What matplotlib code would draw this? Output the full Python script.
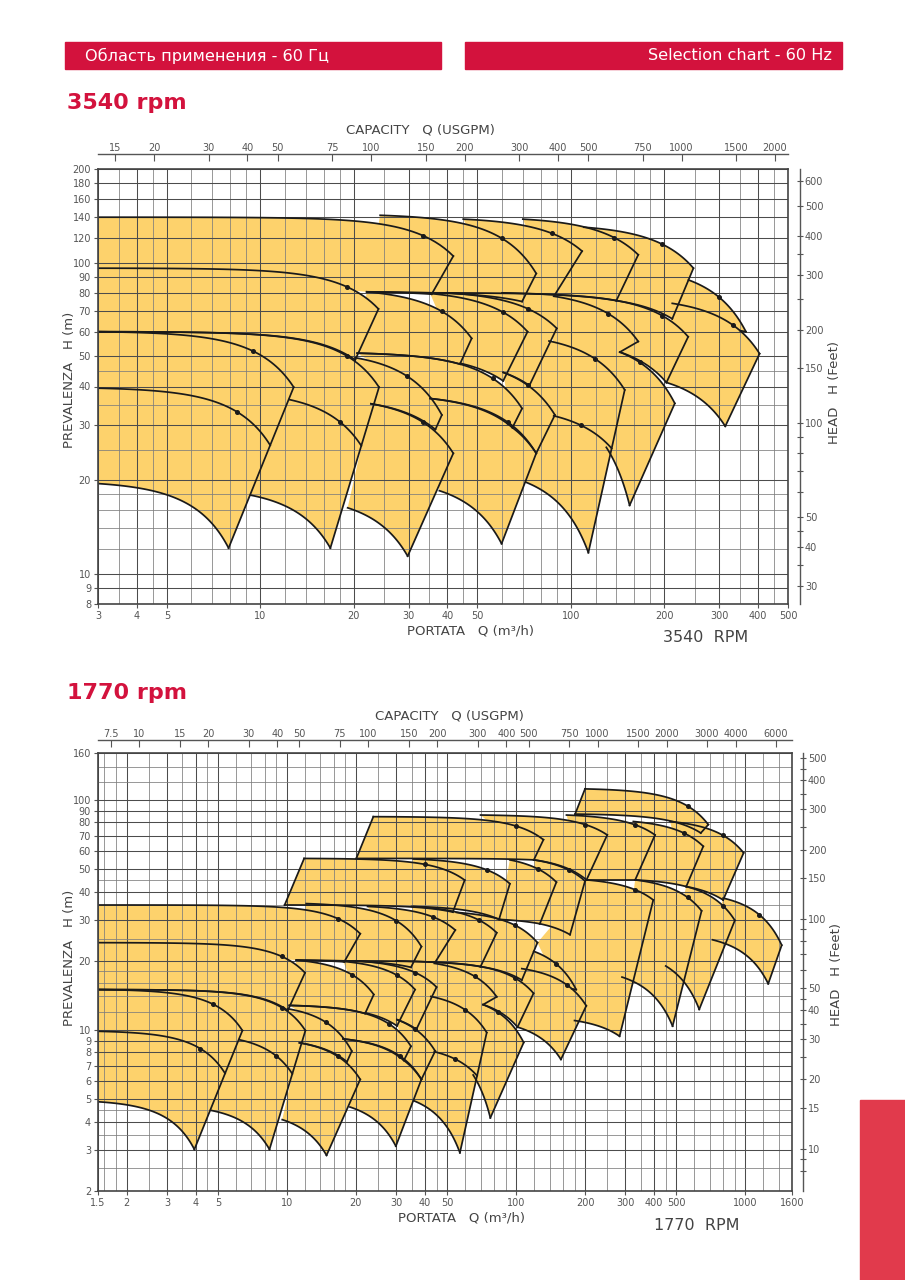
import numpy as np
import matplotlib.pyplot as plt
from matplotlib.patches import Rectangle
from matplotlib.ticker import NullFormatter, NullLocator

RED = '#d3123d'
YELLOW = '#fdd26c'
GPM = 4.4029   # USGPM per m3/h
FT = 0.3048    # metres per foot

# ---------------- 3540 rpm pump tiles (Q m3/h, H m) ----------------
hi_top = [(3, 60), (3, 60), (22.7, 35.2), (35.2, 36.6), (85, 56), (143.7, 51.6),
          (3, 96), (22, 80.6), (20.2, 49.5), (20.5, 51.2), (60.5, 44.4), (35.2, 79.6),
          (40, 80), (88, 78), (36, 80),
          (3, 140), (24.3, 142), (45, 138), (70, 138), (110, 130), (239, 88), (212, 74)]
hi_corner = [(12.8, 39.8), (24.1, 39.8), (41.8, 24.4), (77.3, 24.4), (149, 39), (216, 35.3),
             (24, 71), (47.9, 57.1), (38.4, 32.4), (69.6, 34), (88.8, 32.4), (72.5, 60),
             (90, 61.5), (164.7, 55.8), (238.5, 57.8),
             (41.8, 105), (77.3, 92.3), (108.6, 108.9), (164.7, 106), (248, 96), (366, 60), (405, 51)]
hi_tip = [(7.9, 12.1), (16.8, 12.1), (29.8, 11.4), (59.8, 12.5), (113.8, 11.7), (154.5, 16.6),
          (20.2, 48.7), (43.9, 47.2), (36.6, 29.1), (64.8, 29.5), (77.3, 24.4), (60.5, 41.7),
          (73.5, 40.3), (143.7, 51.6), (203, 41.2),
          (35.6, 79.2), (69.6, 75), (88.7, 78.8), (140, 75.5), (212, 66), (350, 60.5), (314, 29.8)]
hi_bot = [(3, 19.5), (9.3, 17.9), (19.1, 16.3), (37.7, 18.5), (71.6, 19.7), (130, 25.5),
          (3, 60), (20.5, 51.2), (22.7, 35.2), (35.2, 36.6), (64.8, 29.5), (44, 47.5),
          (60.5, 44.4), (87.5, 58), (143.7, 51.6),
          (22, 80.6), (22, 80.6), (60, 80), (88.7, 78.8), (140, 75.5), (212, 66), (203, 41.2)]
hi_dot = [9.5, 19, 33.4, 62.6, 119.5, 166.7, 19, 38.4, 29.7, 56, 72.5, 60.5, 72.5, 132, 197,
          33.4, 59.8, 86.6, 138, 197, 300, 333]
hi_close = {4: [(60.5, 44.4)], 15: [(3, 96)]}
hi_nobot = [13, 20]
hi_follow = {13: 4}   # fill of tile 13 reaches down to the top curve of tile 4
# intermediate impeller curves: tile, start, head where it meets the right edge, dot
hi_mid_tile = [0, 1, 4]
hi_mid_start = [(3, 39.5), (12.4, 36.3), (88, 32.2)]
hi_mid_end = [25.9, 25.8, 25.3]
hi_mid_dot = [8.4, 18, 108]

# ---------------- extra (larger) pumps only on the 1770 rpm chart ----------------
lo_top = [(11.9, 55.8), (35.6, 55.5), (23.85, 84.8), (94, 55), (119.6, 55), (70, 86.2),
          (166, 86.2), (325, 80.8), (470, 80.8), (200, 112), (203, 45), (331, 45),
          (553, 42.1), (801, 37.5)]
lo_corner = [(59.7, 44.9), (94, 43.3), (131.7, 67.3), (150, 44), (200, 44.5), (250, 70.6),
             (404, 70.6), (656, 63), (984, 59), (690, 78.3), (397, 36.8), (645, 33),
             (901, 30), (1443, 23.4)]
lo_tip = [(53, 32.6), (84.3, 30.3), (119.6, 55), (127, 29), (172, 26), (203, 45),
          (331, 45), (553, 42.1), (801, 36.8), (640, 72), (283, 9.4), (482, 10.4),
          (630, 12.3), (1260, 15.9)]
lo_bot = [(9.78, 35), (35.6, 34.5), (20.1, 55.8), (84.3, 30.3), (127, 29), (119.6, 55),
          (203, 45), (331, 45), (553, 42.1), (181, 87), (180, 11), (290, 17),
          (450, 19), (720, 24.7)]
lo_dot = [40, 75, 100, 125, 170, 200, 330, 540, 800, 560, 330, 560, 800, 1150]
lo_close = {10: [(124, 24), (150, 30)]}
lo_left = [0, 2, 9]

# axes ticks
hi_xt = [3, 4, 5, 10, 20, 30, 40, 50, 100, 200, 300, 400, 500]
hi_yt = [8, 9, 10, 20, 30, 40, 50, 60, 70, 80, 90, 100, 120, 140, 160, 180, 200]
hi_gpm = [15, 20, 30, 40, 50, 75, 100, 150, 200, 300, 400, 500, 750, 1000, 1500, 2000]
hi_ft = [30, 40, 50, 100, 150, 200, 300, 400, 500, 600]
hi_ft_minor = [35, 45, 60, 70, 80, 90, 250, 350]
lo_xt = [1.5, 2, 3, 4, 5, 10, 20, 30, 40, 50, 100, 200, 300, 400, 500, 1000, 1600]
lo_yt = [2, 3, 4, 5, 6, 7, 8, 9, 10, 20, 30, 40, 50, 60, 70, 80, 90, 100, 160]
lo_gpm = [7.5, 10, 15, 20, 30, 40, 50, 75, 100, 150, 200, 300, 400, 500, 750, 1000,
          1500, 2000, 3000, 4000, 6000]
lo_ft = [10, 15, 20, 30, 40, 50, 100, 150, 200, 300, 400, 500]
lo_ft_minor = [8, 9, 25, 35, 45, 60, 70, 80, 90, 250, 350, 450]
grid_steps = [1, 1.2, 1.4, 1.6, 1.8, 2, 2.5, 3, 3.5, 4, 4.5, 5, 6, 7, 8, 9]


def curve(p0, p1, n=80):
    q = np.geomspace(p0[0], p1[0], n)
    t = (q ** 3 - p0[0] ** 3) / (p1[0] ** 3 - p0[0] ** 3)
    return q, p0[1] - (p0[1] - p1[1]) * t


def curve_h(p0, p1, q):
    t = (q ** 3 - p0[0] ** 3) / (p1[0] ** 3 - p0[0] ** 3)
    return p0[1] - (p0[1] - p1[1]) * t


def edge_point(corner, tip, h):
    s = np.log(corner[1] / h) / np.log(corner[1] / tip[1])
    q = np.exp(np.log(corner[0]) + s * (np.log(tip[0]) - np.log(corner[0])))
    return q, h


def draw_tiles(ax, top, corner, tip, bot, dots, close=None, left=(), nobot=(), follow=None):
    close = close or {}
    follow = follow or {}
    lk = dict(color='#1a1a1a', lw=1.25, zorder=3, solid_joinstyle='round')
    for i in range(len(top)):
        tq, th = curve(top[i], corner[i])
        if i in follow:
            j = follow[i]
            bq = np.geomspace(bot[i][0], tip[i][0], 60)
            bh = curve_h(top[j], corner[j], bq)
        else:
            bq, bh = curve(bot[i], tip[i])
        xs = list(tq) + [tip[i][0]] + list(bq[::-1])
        ys = list(th) + [tip[i][1]] + list(bh[::-1])
        for q, h in close.get(i, []):
            xs.append(q)
            ys.append(h)
        ax.fill(xs, ys, color=YELLOW, lw=0, zorder=1)
    for i in range(len(top)):
        tq, th = curve(top[i], corner[i])
        bq, bh = curve(bot[i], tip[i])
        ax.plot(tq, th, **lk)
        ax.plot([corner[i][0], tip[i][0]], [corner[i][1], tip[i][1]], **lk)
        if i not in nobot:
            ax.plot(bq, bh, **lk)
        if i in left:
            ax.plot([bot[i][0], top[i][0]], [bot[i][1], top[i][1]], **lk)
        if dots[i]:
            ax.plot(dots[i], curve_h(top[i], corner[i], dots[i]), 'o', color='#1a1a1a',
                    ms=2.6, zorder=4)


def draw_mids(ax, corner, tip, mtile, mstart, mend, mdot):
    for k, i in enumerate(mtile):
        end = edge_point(corner[i], tip[i], mend[k])
        q, h = curve(mstart[k], end)
        ax.plot(q, h, color='#1a1a1a', lw=1.25, zorder=3)
        ax.plot(mdot[k], curve_h(mstart[k], end, mdot[k]), 'o', color='#1a1a1a',
                ms=2.6, zorder=4)


def fmt(v):
    return '%g' % v


def setup_axes(ax, xlim, ylim, xt, yt, gpm, ft, ft_minor, top_off, right_off):
    ax.set_xscale('log')
    ax.set_yscale('log')
    ax.set_xlim(xlim)
    ax.set_ylim(ylim)
    gx = [s * 10 ** d for d in range(-1, 5) for s in grid_steps]
    ax.set_xticks(xt, [fmt(v) for v in xt])
    ax.set_yticks(yt, [fmt(v) for v in yt])
    ax.set_xticks([v for v in gx if xlim[0] < v < xlim[1]], minor=True)
    ax.set_yticks([v for v in gx if ylim[0] < v < ylim[1]], minor=True)
    ax.xaxis.set_minor_formatter(NullFormatter())
    ax.yaxis.set_minor_formatter(NullFormatter())
    ax.tick_params(which='major', labelsize=7, colors='#555555', length=3, width=0.8, pad=2)
    ax.tick_params(which='minor', length=0)
    ax.set_axisbelow(False)
    ax.grid(which='minor', color='#7c7c7c', lw=0.55)
    ax.grid(which='major', color='#4c4c4c', lw=0.75)
    for s in ax.spines.values():
        s.set_color('#444444')
        s.set_linewidth(1.2)
        s.set_zorder(5)

    top = ax.secondary_xaxis(1 + top_off, functions=(lambda q: q * GPM, lambda g: g / GPM))
    top.set_xticks(gpm, [fmt(v) for v in gpm])
    top.xaxis.set_minor_locator(NullLocator())
    top.tick_params(direction='in', length=5, width=0.8, labelsize=7, colors='#555555', pad=1)
    top.spines['top'].set_color('#555555')
    top.spines['top'].set_linewidth(1.0)

    rt = ax.secondary_yaxis(1 + right_off, functions=(lambda h: h / FT, lambda f: f * FT))
    rt.set_yticks(ft, [fmt(v) for v in ft])
    rt.set_yticks(ft_minor, minor=True)
    rt.yaxis.set_minor_formatter(NullFormatter())
    rt.tick_params(which='major', direction='inout', length=5, width=0.8, labelsize=7,
                   colors='#555555', pad=1)
    rt.tick_params(which='minor', direction='inout', length=5, width=0.8, colors='#555555')
    rt.spines['right'].set_color('#555555')
    rt.spines['right'].set_linewidth(1.0)


W, H = 905, 1280
fig = plt.figure(figsize=(W / 100, H / 100), dpi=100)


def ptext(x, y, s, **kw):
    fig.text(x / W, 1 - y / H, s, **kw)


def box(x0, y0, x1, y1, color):
    fig.patches.append(Rectangle((x0 / W, 1 - y1 / H), (x1 - x0) / W, (y1 - y0) / H,
                                 transform=fig.transFigure, color=color, zorder=0))


# header
box(65, 42, 441, 69, RED)
box(465, 42, 842, 69, RED)
box(860, 1100, 905, 1280, '#e13a4c')
ptext(85, 55.5, 'Область применения - 60 Гц', color='white', fontsize=11.6, va='center')
ptext(832, 55.5, 'Selection chart - 60 Hz', color='white', fontsize=11.6, va='center', ha='right')
ptext(67, 103, '3540 rpm', color=RED, fontsize=16, fontweight='bold', va='center')
ptext(67, 693, '1770 rpm', color=RED, fontsize=16, fontweight='bold', va='center')

lab = dict(color='#444444', fontsize=9.5)

# 3540 rpm chart
ax1 = fig.add_axes([98 / W, 1 - 604 / H, 690 / W, 435 / H])
draw_tiles(ax1, hi_top, hi_corner, hi_tip, hi_bot, hi_dot, hi_close, nobot=hi_nobot,
           follow=hi_follow)
draw_mids(ax1, hi_corner, hi_tip, hi_mid_tile, hi_mid_start, hi_mid_end, hi_mid_dot)
setup_axes(ax1, (3, 500), (8, 200), hi_xt, hi_yt, hi_gpm, hi_ft, hi_ft_minor, 15 / 435, 12 / 690)
ptext(420, 130, 'CAPACITY   Q (USGPM)', ha='center', va='center', **lab)
ptext(470, 631, 'PORTATA   Q (m³/h)', ha='center', va='center', **lab)
ptext(706, 637, '3540  RPM', ha='center', va='center', color='#444444', fontsize=11.5)
ptext(70, 380, 'PREVALENZA   H (m)', rotation=90, ha='center', va='center', **lab)
ptext(834, 392, 'HEAD   H (Feet)', rotation=90, ha='center', va='center', **lab)

# 1770 rpm chart: same pumps at half speed (Q/2, H/4) plus the larger ones
sq = lambda pts: [(q / 2, h / 4) for q, h in pts]
ax2 = fig.add_axes([98 / W, 1 - 1190.7 / H, 694 / W, 437.4 / H])
draw_tiles(ax2, sq(hi_top), sq(hi_corner), sq(hi_tip), sq(hi_bot), [d / 2 for d in hi_dot],
           {k: sq(v) for k, v in hi_close.items()}, nobot=hi_nobot, follow=hi_follow)
draw_mids(ax2, sq(hi_corner), sq(hi_tip), hi_mid_tile, sq(hi_mid_start),
          [h / 4 for h in hi_mid_end], [d / 2 for d in hi_mid_dot])
draw_tiles(ax2, lo_top, lo_corner, lo_tip, lo_bot, lo_dot, lo_close, lo_left)
setup_axes(ax2, (1.5, 1600), (2, 160), lo_xt, lo_yt, lo_gpm, lo_ft, lo_ft_minor,
           13.3 / 437.4, 11 / 694)
ptext(449, 716, 'CAPACITY   Q (USGPM)', ha='center', va='center', **lab)
ptext(462, 1218, 'PORTATA   Q (m³/h)', ha='center', va='center', **lab)
ptext(697, 1225, '1770  RPM', ha='center', va='center', color='#444444', fontsize=11.5)
ptext(70, 958, 'PREVALENZA   H (m)', rotation=90, ha='center', va='center', **lab)
ptext(836, 975, 'HEAD   H (Feet)', rotation=90, ha='center', va='center', **lab)

fig.savefig('out.png', dpi=100)
